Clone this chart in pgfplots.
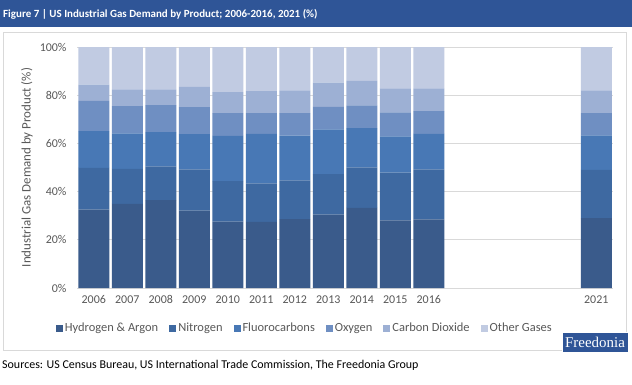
\documentclass[border=0pt]{standalone}
\usepackage{pgfplots}
\pgfplotsset{compat=1.18}
\usepackage{pgfplotstable}
\usepackage{fontspec}
\setmainfont{Carlito}
\newfontfamily\seriffont{Liberation Serif}
\definecolor{cHA}{HTML}{3A5B8B}
\definecolor{cN}{HTML}{3E69A1}
\definecolor{cF}{HTML}{4878B5}
\definecolor{cO}{HTML}{6F8FC2}
\definecolor{cC}{HTML}{9DB0D4}
\definecolor{cOt}{HTML}{C1CBE2}
\definecolor{titlebar}{HTML}{2F5597}
\definecolor{txtgrey}{HTML}{595959}
\definecolor{gridgrey}{HTML}{D9D9D9}
\pgfplotstableread{
x   HA   N    F    O    C    Ot
0   32.5 17.3 15.3 12.5 6.8  15.6
1   34.9 14.5 14.8 11.3 6.9  17.6
2   36.5 14.0 14.2 11.2 6.5  17.6
3   32.1 17.1 14.7 11.2 8.4  16.5
4   27.5 16.8 18.8 9.5  8.7  18.7
5   27.4 16.0 20.6 8.6  9.1  18.3
6   28.6 16.1 18.5 9.4  9.4  18.0
7   30.4 16.9 18.5 9.4  10.0 14.8
8   33.2 16.9 16.2 9.5  10.1 14.1
9   28.1 19.8 15.0 10.0 9.9  17.2
10  28.5 20.7 14.8 9.4  9.4  17.2
15  29.0 20.0 14.3 9.3  9.4  18.0
}\datatable
\begin{document}
\begin{tikzpicture}[x=1bp,y=1bp]
\useasboundingbox (0,0) rectangle (632,-384);
\fill[white] (0,0) rectangle (632,-384);
\fill[titlebar] (0,0) rectangle (632,-27);
\node[anchor=west,text=white,font=\bfseries\fontsize{11}{13}\selectfont,inner sep=0pt] at (3,-14) {Figure 7 | US Industrial Gas Demand by Product; 2006-2016, 2021 (\%)};
\draw[draw=gridgrey,line width=0.8bp] (3,-32) rectangle (626,-350);
\begin{axis}[
  at={(77bp,-288bp)}, anchor=south west,
  scale only axis, width=536bp, height=241bp,
  ybar stacked, bar width=31bp,
  xmin=-0.5, xmax=15.5, ymin=0, ymax=100,
  xtick={0,1,2,3,4,5,6,7,8,9,10,15},
  xticklabels={2006,2007,2008,2009,2010,2011,2012,2013,2014,2015,2016,2021},
  ytick={0,20,40,60,80,100},
  yticklabel={\pgfmathprintnumber{\tick}\%},
  /pgf/number format/assume math mode=true,
  tick style={draw=none},
  ymajorgrids, grid style={draw=gridgrey,line width=0.8bp},
  axis x line*=bottom, axis y line*=left,
  x axis line style={draw=gridgrey,line width=0.8bp,-},
  y axis line style={draw=none},
  ticklabel style={font=\fontsize{12}{14}\selectfont,text=txtgrey},
  xticklabel style={yshift=-4bp},
  yticklabel style={xshift=-7bp},
  ylabel={Industrial Gas Demand by Product (\%)},
  every axis y label/.style={at={(axis description cs:-0.0933,0.5)},rotate=90,anchor=center,
    font=\fontsize{13}{15}\selectfont,text=txtgrey},
  legend columns=6,
  legend style={at={(0.425,-0.166)},anchor=center,draw=none,fill=none,
    font=\fontsize{12.5}{15}\selectfont,text=txtgrey,
    /tikz/every even column/.append style={column sep=9bp}},
  legend image code/.code={\fill[#1] (0bp,-3.5bp) rectangle (7bp,3.5bp);},
  legend cell align=left,
]
\addplot[fill=cHA,draw=none] table[x=x,y=HA]{\datatable};
\addplot[fill=cN,draw=none] table[x=x,y=N]{\datatable};
\addplot[fill=cF,draw=none] table[x=x,y=F]{\datatable};
\addplot[fill=cO,draw=none] table[x=x,y=O]{\datatable};
\addplot[fill=cC,draw=none] table[x=x,y=C]{\datatable};
\addplot[fill=cOt,draw=none] table[x=x,y=Ot]{\datatable};
\legend{Hydrogen \& Argon,Nitrogen,Fluorocarbons,Oxygen,Carbon Dioxide,Other Gases}
\end{axis}
\fill[titlebar] (562,-332) rectangle (628,-352);
\draw[white,line width=0.6bp] (562,-332) rectangle (628,-352);
\node[text=white,font=\seriffont\fontsize{15}{16}\selectfont,inner sep=0pt] at (595,-342) {Freedonia};
\node[anchor=west,text=black,font=\fontsize{12}{14}\selectfont,inner sep=0pt] at (2,-365) {Sources: US Census Bureau, US International Trade Commission, The Freedonia Group};
\end{tikzpicture}
\end{document}
